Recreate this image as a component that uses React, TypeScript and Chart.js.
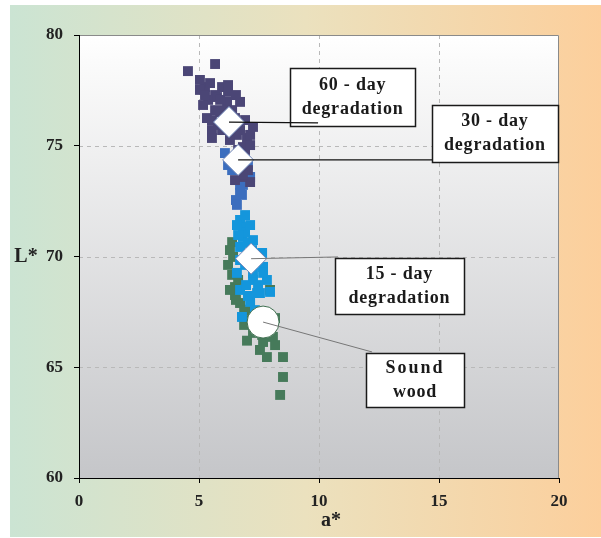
import React, { useEffect, useRef } from 'react';
import { Chart, registerables } from 'chart.js';
Chart.register(...registerables);

// ---- data (a*, L*) ----
const soundA = [6.38, 6.42, 6.38, 6.5, 7.96, 6.5, 6.71, 7.25, 7.67, 8.08, 7.83, 8.5, 8.5, 8.38, 6.88, 7.46, 8.17, 6.63, 7.0, 7.1, 6.29, 6.21, 6.54, 6.88, 7.13, 7.63, 7.96, 8.17, 7.54, 6.29];
const soundL = [70.65, 69.98, 69.17, 68.62, 68.49, 68.26, 67.9, 66.55, 66.14, 66.37, 65.46, 65.46, 64.56, 63.75, 66.91, 66.68, 67.22, 68.94, 66.2, 67.6, 70.29, 69.62, 68.04, 67.58, 67.13, 66.46, 66.91, 66.0, 65.78, 68.49];
const day15A = [6.71, 6.83, 6.83, 7.04, 7.25, 6.71, 7.67, 7.83, 6.58, 7.25, 7.54, 6.71, 7.25, 7.67, 7.96, 7.42, 7.13, 6.79, 6.92, 7.13, 6.92, 6.58, 7.13, 6.63, 7.21, 6.92, 7.33, 6.71, 7.46, 6.96, 7.63, 7.04, 7.33];
const day15L = [71.65, 71.33, 70.88, 70.61, 70.74, 70.43, 69.53, 68.94, 69.26, 68.94, 68.35, 68.49, 69.26, 69.26, 68.4, 68.35, 67.95, 67.27, 71.1, 70.07, 71.87, 71.42, 71.42, 70.97, 70.29, 69.62, 69.75, 69.84, 68.71, 68.71, 70.16, 68.22, 67.58];
const day30A = [6.08, 6.58, 7.13, 6.71, 7.04, 6.83, 6.54, 6.58, 6.92, 6.38, 6.71, 6.38, 6.21, 6.79];
const day30L = [74.67, 73.9, 73.59, 72.87, 74.13, 73.23, 72.55, 72.33, 74.36, 74.36, 73.23, 73.9, 74.13, 72.78];
const day60A = [4.54, 5.67, 5.25, 5.46, 5.04, 5.96, 5.67, 5.38, 5.75, 6.17, 6.71, 6.38, 5.33, 5.54, 5.54, 7.25, 7.0, 6.58, 6.83, 6.92, 7.13, 6.79, 6.63, 6.08, 5.88, 6.5, 7.13, 5.17, 6.21, 6.42, 5.79, 5.04, 5.25, 6.21, 6.54, 5.88, 5.67, 6.08, 5.54, 6.92, 6.71, 6.29, 5.96, 7.13, 6.63, 7.04, 6.83, 6.5];
const day60L = [78.37, 78.69, 77.65, 77.83, 77.52, 77.65, 77.29, 77.07, 77.2, 76.98, 76.98, 76.61, 76.25, 75.71, 75.35, 75.85, 75.35, 75.49, 74.94, 74.81, 73.36, 73.59, 75.94, 76.16, 76.52, 76.25, 75.03, 76.84, 77.43, 75.71, 75.94, 77.97, 77.29, 77.74, 77.29, 77.07, 76.61, 76.61, 76.16, 76.16, 75.71, 75.26, 75.71, 75.49, 74.81, 73.9, 73.68, 73.45];
// means: sound wood, 15-day, 30-day, 60-day
const meanA = [7.67, 7.17, 6.63, 6.25];
const meanL = [67.04, 69.9, 74.36, 76.07];
const xTicks = [0, 5, 10, 15, 20];
const yTicks = [60, 65, 70, 75, 80];
const xTitle = 'a*';
const yTitle = 'L*';

// annotation boxes (data-space centres), linked to mean index
const notes = [
  { idx: 3, lines: ['60 - day', 'degradation'], cx: 11.40, cy: 77.20, w: 125, h: 58, end: [9.96, 76.03], color: '#111', lw: 1.2 },
  { idx: 2, lines: ['30 - day', 'degradation'], cx: 17.33, cy: 75.55, w: 126, h: 57, end: [14.71, 74.36], color: '#111', lw: 1.2 },
  { idx: 1, lines: ['15 - day', 'degradation'], cx: 13.35, cy: 68.67, w: 129, h: 56, end: [10.79, 69.98], color: '#777', lw: 1 },
  { idx: 0, lines: ['Sound', 'wood'], cx: 14.0, cy: 64.42, w: 98, h: 54, end: [12.21, 65.69], color: '#777', lw: 1 },
];

const toPts = (xs: number[], ys: number[]) => xs.map((x, i) => ({ x, y: ys[i] }));
const FONT = '"Liberation Serif", "Times New Roman", serif';

const bgPlugin = {
  id: 'bgPlugin',
  beforeDraw(chart: any) {
    const { ctx, chartArea: ca, scales } = chart;
    ctx.save();
    const g = ctx.createLinearGradient(10, 0, 601, 0);
    g.addColorStop(0, '#cbe4d3');
    g.addColorStop(0.5, '#ebe1be');
    g.addColorStop(1, '#fccf9c');
    ctx.fillStyle = g;
    ctx.fillRect(10, 5, 591, 532);
    const pg = ctx.createLinearGradient(0, ca.top, 0, ca.bottom);
    pg.addColorStop(0, '#ffffff');
    pg.addColorStop(0.06, '#fbfbfb');
    pg.addColorStop(1, '#c5c6c9');
    ctx.fillStyle = pg;
    ctx.fillRect(ca.left, ca.top, ca.right - ca.left, ca.bottom - ca.top);
    ctx.strokeStyle = '#b9b9b9';
    ctx.lineWidth = 1;
    ctx.setLineDash([4, 4]);
    xTicks.slice(1, -1).forEach((v) => {
      const px = Math.round(scales.x.getPixelForValue(v)) + 0.5;
      ctx.beginPath(); ctx.moveTo(px, ca.top); ctx.lineTo(px, ca.bottom); ctx.stroke();
    });
    yTicks.slice(1, -1).forEach((v) => {
      const py = Math.round(scales.y.getPixelForValue(v)) + 0.5;
      ctx.beginPath(); ctx.moveTo(ca.left, py); ctx.lineTo(ca.right, py); ctx.stroke();
    });
    ctx.setLineDash([]);
    ctx.strokeStyle = '#8a8a8a';
    ctx.beginPath();
    ctx.moveTo(ca.left, ca.top + 0.5); ctx.lineTo(ca.right - 0.5, ca.top + 0.5); ctx.lineTo(ca.right - 0.5, ca.bottom);
    ctx.stroke();
    // axis titles
    ctx.fillStyle = '#222';
    ctx.font = `bold 20px ${FONT}`;
    ctx.textAlign = 'center';
    ctx.textBaseline = 'middle';
    ctx.fillText(yTitle, 26, scales.y.getPixelForValue(70));
    ctx.fillText(xTitle, scales.x.getPixelForValue(10) + 12, 521);
    ctx.restore();
  },
  afterDatasetsDraw(chart: any) {
    const { ctx, scales } = chart;
    ctx.save();
    notes.forEach((n) => {
      const cx = scales.x.getPixelForValue(n.cx);
      const cy = scales.y.getPixelForValue(n.cy);
      const x0 = Math.round(cx - n.w / 2) + 0.5;
      const y0 = Math.round(cy - n.h / 2) + 0.5;
      ctx.fillStyle = '#ffffff';
      ctx.fillRect(x0, y0, n.w, n.h);
      ctx.strokeStyle = '#1a1a1a';
      ctx.lineWidth = 1.5;
      ctx.strokeRect(x0, y0, n.w, n.h);
      ctx.fillStyle = '#1a1a1a';
      ctx.font = `bold 18px ${FONT}`;
      ctx.textAlign = 'center';
      ctx.textBaseline = 'middle';
      n.lines.forEach((t, i) => {
        (ctx as any).letterSpacing = t === 'Sound' ? '2px' : '0.8px';
        ctx.fillText(t, cx, cy + (i === 0 ? -12 : 12));
      });
      (ctx as any).letterSpacing = '0px';
    });
    notes.forEach((n) => {
      const sx = scales.x.getPixelForValue(meanA[n.idx]);
      const sy = scales.y.getPixelForValue(meanL[n.idx]);
      const ex = scales.x.getPixelForValue(n.end[0]);
      const ey = scales.y.getPixelForValue(n.end[1]);
      ctx.strokeStyle = n.color;
      ctx.lineWidth = n.lw;
      ctx.beginPath(); ctx.moveTo(sx, sy); ctx.lineTo(ex, ey); ctx.stroke();
    });
    ctx.restore();
  },
};

export default function App() {
  const ref = useRef<HTMLCanvasElement>(null);
  useEffect(() => {
    if (!ref.current) return;
    const sq = (color: string, order: number, data: any[]) => ({
      data, order, pointStyle: 'rect', pointRadius: 7, pointHoverRadius: 7,
      backgroundColor: color, borderColor: color, borderWidth: 0, showLine: false,
    });
    const chart = new Chart(ref.current, {
      type: 'scatter',
      data: {
        datasets: [
          {
            data: toPts(meanA.slice(1), meanL.slice(1)), order: 0, pointStyle: 'rectRot', pointRadius: 15.5,
            backgroundColor: '#ffffff', borderColor: '#6f86b8', borderWidth: 1,
          } as any,
          {
            data: toPts(meanA.slice(0, 1), meanL.slice(0, 1)), order: 0, pointStyle: 'circle', pointRadius: 16,
            backgroundColor: '#ffffff', borderColor: '#3f6f50', borderWidth: 1,
          } as any,
          sq('#4b4676', 1, toPts(day60A, day60L)),
          sq('#3c6ebe', 2, toPts(day30A, day30L)),
          sq('#1496dc', 3, toPts(day15A, day15L)),
          sq('#467a5a', 4, toPts(soundA, soundL)),
        ],
      },
      options: {
        responsive: false,
        animation: false,
        devicePixelRatio: 1,
        layout: { padding: { top: 35, right: 42, bottom: 0, left: 0 } },
        plugins: { legend: { display: false }, tooltip: { enabled: false } },
        scales: {
          x: {
            type: 'linear', min: 0, max: 20,
            afterFit: (s: any) => { s.height = 60; },
            afterBuildTicks: (s: any) => { s.ticks = xTicks.map((v) => ({ value: v })); },
            grid: { drawOnChartArea: false, drawTicks: true, tickLength: 5, tickColor: '#000' },
            border: { display: true, color: '#000', width: 1 },
            ticks: { color: '#222', padding: 8, font: { family: FONT, size: 17, weight: 'bold' } },
          },
          y: {
            type: 'linear', min: 60, max: 80,
            afterFit: (s: any) => { s.width = 79; },
            afterBuildTicks: (s: any) => { s.ticks = yTicks.map((v) => ({ value: v })); },
            grid: { drawOnChartArea: false, drawTicks: true, tickLength: 5, tickColor: '#000' },
            border: { display: true, color: '#000', width: 1 },
            ticks: { color: '#222', padding: 11, font: { family: FONT, size: 17, weight: 'bold' } },
          },
        },
      } as any,
      plugins: [bgPlugin],
    });
    return () => chart.destroy();
  }, []);
  return (
    <div style={{ position: 'fixed', left: 0, top: 0, width: 601, height: 538, background: '#fff' }}>
      <canvas ref={ref} width={601} height={538} />
    </div>
  );
}
